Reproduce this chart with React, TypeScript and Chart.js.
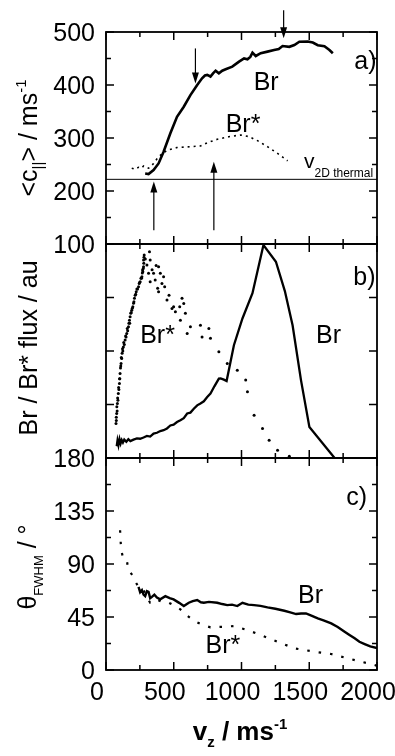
import React, { useEffect, useRef } from "react";
import { Chart, registerables } from "chart.js";
Chart.register(...registerables);

const FONT = "'Liberation Sans', Arial, Helvetica, sans-serif";
const W = 395;
const H = 756;
const PLOT_LEFT = 106;
const PLOT_RIGHT = 377;

// ---------- shared x axis ----------
const xTicks = [0, 250, 500, 750, 1000, 1250, 1500, 1750, 2000];
const xLabelled = [0, 500, 1000, 1500, 2000];

// ---------- panel a) <c||> ----------
const aBrX = [289, 314, 351, 388, 425, 475, 524, 574, 623, 673, 709, 730, 747, 771, 790, 809, 833, 858, 883, 932, 982, 1019, 1044, 1065, 1081, 1105, 1142, 1192, 1241, 1275, 1303, 1353, 1390, 1427, 1489, 1526, 1563, 1612, 1649, 1674];
const aBrY = [233, 232, 239.6, 252, 274, 309, 340, 359, 381, 400, 412.6, 418, 419, 416, 422, 427, 422, 427, 429.6, 434.6, 444, 450, 448.5, 453, 461, 454.7, 460, 463, 466, 468, 473.6, 472, 475.5, 481.7, 482, 480, 475, 473, 466, 460];
const aBrStarX = [190, 215, 240, 260, 277, 295, 314, 330, 351, 388, 450, 524, 623, 697, 747, 821, 907, 994, 1056, 1118, 1192, 1266, 1340];
const aBrStarY = [243, 241, 244.7, 243, 247, 244, 243, 246, 252, 264.7, 277, 282, 283.6, 285, 291, 297.5, 302.5, 305.7, 302.5, 295, 283.6, 271, 257];
const aThermal = 222;
const aYTicks = [100, 150, 200, 250, 300, 350, 400, 450, 500];
const aYLabelled = [100, 200, 300, 400, 500];
// arrows: x, start value, tip value
const aArrowX = [660, 1311, 353, 796];
const aArrowFrom = [469, 541, 126, 126];
const aArrowTip = [403, 488, 218, 255];

// ---------- panel b) flux ----------
const bBrX = [79, 85, 92, 100, 108, 116, 125, 135, 150, 165, 180, 203, 228, 252, 277, 302, 326, 351, 376, 401, 425, 450, 475, 499, 524, 549, 574, 599, 623, 648, 673, 697, 722, 747, 771, 800, 833, 846, 870, 890, 944, 1007, 1081, 1162, 1254, 1320, 1377, 1439, 1501, 1687];
const bBrY = [5.5, 8.2, 6.0, 8.8, 6.8, 8.4, 7.2, 8.6, 7.6, 8.8, 7.9, 8.6, 9.2, 9.0, 9.6, 10.3, 10.0, 11.4, 11.8, 12.6, 13.0, 13.8, 15.2, 15.6, 16.8, 17.6, 18.6, 20.8, 21.2, 23.0, 24.6, 25.5, 26.5, 28.5, 30.1, 33.5, 37.1, 37.2, 36.6, 36.0, 52.7, 65.2, 77, 99.5, 91.7, 78, 62, 36.4, 14.5, 0];
const bBrStarX = [74, 76, 76, 79, 80, 82, 84, 86, 88, 91, 93, 95, 99, 100, 102, 104, 107, 109, 111, 113, 116, 119, 122, 124, 128, 131, 135, 141, 145, 148, 153, 157, 160, 166, 169, 173, 175, 178, 183, 186, 190, 194, 198, 203, 206, 210, 215, 219, 223, 228, 233, 240, 245, 248, 252, 258, 262, 265, 268, 270, 272, 275, 277, 279, 277, 280, 282, 290, 302, 314, 321, 326, 326, 340, 351, 363, 370, 381, 388, 388, 401, 413, 425, 433, 450, 465, 487, 499, 512, 544, 549, 561, 574, 586, 599, 623, 697, 709, 759, 771, 833, 895, 969, 1031, 1044, 1093, 1155, 1204, 1266, 1353];
const bBrStarY = [16.1, 17.5, 19, 20.8, 24, 22, 25.5, 28, 27, 30.1, 33, 32, 34.8, 37, 37, 39.5, 42, 43, 44.2, 47, 46.5, 48.9, 51, 50, 51.9, 54, 53, 55.1, 57, 56.5, 58.2, 60.5, 59.5, 61.3, 63, 64.4, 63, 66, 67.6, 68, 69, 70, 70.7, 72.3, 73, 74.6, 76, 76.5, 77.7, 79, 79, 80, 81.5, 82, 82.4, 84, 84, 84.7, 86.5, 87.8, 87, 88.5, 89.4, 91, 92.5, 93.8, 94.9, 93, 90.2, 86.3, 96.4, 92.5, 82.4, 88, 86.3, 83.2, 90, 79.3, 89.4, 77.7, 86.3, 81.6, 84.7, 80, 73.8, 76, 69.9, 70.7, 68.3, 70.7, 64.4, 74.6, 72.2, 67.6, 58.2, 61.3, 62, 56.6, 60.5, 55.9, 49.6, 44.2, 41, 36.4, 30.9, 20, 13.8, 8.3, 3.6, 0.8];
const bYTicks = [0, 25, 50, 75, 100];

// ---------- panel c) theta FWHM ----------
const cBrX = [240, 252, 265, 277, 289, 302, 314, 326, 339, 357, 376, 400, 438, 470, 499, 540, 574, 611, 640, 673, 700, 722, 760, 821, 858, 895, 930, 969, 1007, 1050, 1093, 1140, 1192, 1250, 1316, 1360, 1403, 1440, 1476, 1520, 1563, 1610, 1662, 1710, 1761, 1800, 1835, 1870, 1909, 1950, 2000];
const cBrY = [70.6, 66, 67.8, 64, 62.7, 67, 66.4, 61, 62.1, 64, 61.6, 60, 62.7, 61, 59.9, 57, 54.3, 57.1, 58.5, 59.4, 57.5, 57.1, 57.8, 57.1, 56, 55.1, 55.5, 54.3, 57.1, 55.5, 55.1, 54.5, 53.2, 52, 50.3, 49, 47.5, 48, 48.1, 46, 43.8, 42, 39.6, 36.5, 32.5, 29.5, 26.9, 24, 22, 20, 18.6];
const cBrStarX = [104, 109, 116, 124, 135, 153, 166, 185, 203, 222, 240, 258, 277, 300, 326, 350, 376, 410, 450, 500, 549, 600, 648, 710, 771, 820, 870, 944, 1044, 1142, 1266, 1390, 1538, 1662, 1786, 1884, 1983, 2000];
const cBrStarY = [118.7, 107.4, 100, 96, 94, 93.3, 84.8, 82, 79.1, 74, 70.6, 68, 67.8, 62, 57.1, 58, 59.9, 58, 57.9, 55, 51.5, 46, 41.8, 38.5, 36.2, 36.5, 36.7, 37.3, 33.9, 29.7, 24, 18.4, 15.5, 13.6, 9.9, 7, 4.2, 3.5];
const cYTicks = [0, 22.5, 45, 67.5, 90, 112.5, 135, 157.5, 180];
const cYLabelled = [0, 45, 90, 135, 180];

// ---------- helpers ----------
type Part = { t: string; size: number; dy?: number; bold?: boolean };
const fnt = (size: number, bold?: boolean) => `${bold ? "bold " : ""}${size}px ${FONT}`;

function drawRich(ctx: CanvasRenderingContext2D, parts: Part[], x: number, y: number, center: boolean, rotate: boolean) {
  ctx.save();
  ctx.translate(x, y);
  if (rotate) ctx.rotate(-Math.PI / 2);
  const widths = parts.map((p) => {
    ctx.font = fnt(p.size, p.bold);
    return ctx.measureText(p.t).width;
  });
  const total = widths.reduce((a, b) => a + b, 0);
  let cx = center ? -total / 2 : 0;
  ctx.fillStyle = "#000";
  ctx.textAlign = "left";
  ctx.textBaseline = "alphabetic";
  parts.forEach((p, i) => {
    ctx.font = fnt(p.size, p.bold);
    ctx.fillText(p.t, cx, p.dy || 0);
    cx += widths[i];
  });
  ctx.restore();
}

type Label = { parts: Part[]; x: number; y: number };
type Arrow = { x: number; from: number; tip: number };

type Spec = {
  top: number;
  bottom: number;
  showX: boolean;
  yMin: number;
  yMax: number;
  yStep: number;
  yTicks: number[];
  yMajor: number[];
  yLabelled: number[];
  datasets: any[];
  labels: Label[];
  arrows?: Arrow[];
  hline?: number;
  titles?: (ctx: CanvasRenderingContext2D) => void;
};

const pts = (xs: number[], ys: number[]) => xs.map((x, i) => ({ x, y: ys[i] }));

function makePlugin(spec: Spec) {
  return {
    id: "deco",
    afterDraw(chart: any) {
      const ctx: CanvasRenderingContext2D = chart.ctx;
      const { left, right, top, bottom } = chart.chartArea;
      const xs = chart.scales.x;
      const ys = chart.scales.y;
      ctx.save();
      ctx.strokeStyle = "#000";
      // frame
      ctx.lineWidth = 1.8;
      ctx.strokeRect(left, top, right - left, bottom - top);
      ctx.lineWidth = 1.5;
      ctx.beginPath();
      for (const v of xTicks) {
        const px = xs.getPixelForValue(v);
        const len = xLabelled.includes(v) ? 8 : 5;
        ctx.moveTo(px, bottom);
        ctx.lineTo(px, bottom - len);
        ctx.moveTo(px, top);
        ctx.lineTo(px, top + len);
      }
      for (const v of spec.yTicks) {
        const py = ys.getPixelForValue(v);
        const len = spec.yMajor.includes(v) ? 8 : 5;
        ctx.moveTo(left, py);
        ctx.lineTo(left + len, py);
        ctx.moveTo(right, py);
        ctx.lineTo(right - len, py);
      }
      ctx.stroke();
      // tick labels (placed through the scales)
      ctx.fillStyle = "#000";
      ctx.font = fnt(25);
      ctx.textBaseline = "alphabetic";
      ctx.textAlign = "right";
      for (const v of spec.yLabelled) {
        const py = ys.getPixelForValue(v);
        ctx.fillText(String(v), left - 11, py + 8.5);
      }
      if (spec.showX) {
        ctx.textAlign = "center";
        for (const v of xLabelled) {
          const px = xs.getPixelForValue(v);
          ctx.fillText(String(v), px - 9, bottom + 30);
        }
      }
      // horizontal reference line
      if (spec.hline !== undefined) {
        const py = ys.getPixelForValue(spec.hline);
        ctx.lineWidth = 1;
        ctx.beginPath();
        ctx.moveTo(left, py);
        ctx.lineTo(right, py);
        ctx.stroke();
      }
      // arrows
      for (const a of spec.arrows || []) {
        const px = xs.getPixelForValue(a.x);
        const y0 = ys.getPixelForValue(a.from);
        const y1 = ys.getPixelForValue(a.tip);
        const dir = y1 > y0 ? 1 : -1;
        ctx.lineWidth = 1.2;
        ctx.beginPath();
        ctx.moveTo(px, y0);
        ctx.lineTo(px, y1 - dir * 8);
        ctx.stroke();
        ctx.beginPath();
        ctx.moveTo(px, y1);
        ctx.lineTo(px - 3.5, y1 - dir * 11);
        ctx.lineTo(px + 3.5, y1 - dir * 11);
        ctx.closePath();
        ctx.fill();
      }
      // in-plot labels
      for (const l of spec.labels) {
        drawRich(ctx, l.parts, xs.getPixelForValue(l.x), ys.getPixelForValue(l.y), false, false);
      }
      if (spec.titles) spec.titles(ctx);
      ctx.restore();
    },
  };
}

function buildChart(canvas: HTMLCanvasElement, spec: Spec) {
  const xScale: any = {
    type: "linear",
    min: 0,
    max: 2000,
    display: spec.showX,
    grid: { display: false, drawTicks: false },
    border: { display: false },
    ticks: { display: false, stepSize: 250 },
  };
  if (spec.showX) {
    xScale.afterFit = (s: any) => {
      s.height = H - spec.bottom;
    };
  }
  return new Chart(canvas, {
    type: "scatter",
    data: { datasets: spec.datasets },
    options: {
      responsive: false,
      animation: false,
      devicePixelRatio: 1,
      layout: {
        autoPadding: false,
        padding: { left: 0, right: W - PLOT_RIGHT, top: spec.top, bottom: spec.showX ? 0 : H - spec.bottom },
      },
      plugins: { legend: { display: false }, tooltip: { enabled: false } },
      scales: {
        x: xScale,
        y: {
          type: "linear",
          min: spec.yMin,
          max: spec.yMax,
          grid: { display: false, drawTicks: false },
          border: { display: false },
          afterFit: (s: any) => {
            s.width = PLOT_LEFT;
          },
          ticks: { display: false, stepSize: spec.yStep },
        },
      },
    } as any,
    plugins: [makePlugin(spec) as any],
  });
}

const lineDs = (data: any[], width: number, dash: number[] = []) => ({
  data,
  showLine: true,
  borderColor: "#000",
  borderWidth: width,
  borderDash: dash,
  pointRadius: 0,
  fill: false,
  tension: 0,
});

const T = 25;

const specA: Spec = {
  top: 32,
  bottom: 244,
  showX: false,
  yMin: 100,
  yMax: 500,
  yStep: 50,
  yTicks: aYTicks,
  yMajor: aYLabelled,
  yLabelled: aYLabelled,
  datasets: [lineDs(pts(aBrX, aBrY), 2.6), lineDs(pts(aBrStarX, aBrStarY), 1.6, [2, 4])],
  hline: aThermal,
  arrows: aArrowX.map((x, i) => ({ x, from: aArrowFrom[i], tip: aArrowTip[i] })),
  labels: [
    { parts: [{ t: "a)", size: T }], x: 1832, y: 430 },
    { parts: [{ t: "Br", size: T }], x: 1090, y: 390.6 },
    { parts: [{ t: "Br*", size: T }], x: 883, y: 311 },
    { parts: [{ t: "v", size: 21 }, { t: "2D thermal", size: 12, dy: 9 }], x: 1461, y: 243 },
  ],
  titles: (ctx) => {
    drawRich(
      ctx,
      [
        { t: "<c", size: T },
        { t: "||", size: 15, dy: 6 },
        { t: "> / ms", size: T },
        { t: "-1", size: 15, dy: -11 },
      ],
      37,
      138,
      true,
      true
    );
  },
};

const specB: Spec = {
  top: 244,
  bottom: 458,
  showX: false,
  yMin: 0,
  yMax: 100,
  yStep: 25,
  yTicks: bYTicks,
  yMajor: bYTicks,
  yLabelled: [],
  datasets: [
    lineDs(pts(bBrX, bBrY), 2.3),
    {
      data: pts(bBrStarX, bBrStarY),
      showLine: false,
      pointRadius: 1.5,
      pointBorderWidth: 0,
      pointBackgroundColor: "#000",
      borderColor: "#000",
    },
  ],
  labels: [
    { parts: [{ t: "b)", size: T }], x: 1825, y: 80.7 },
    { parts: [{ t: "Br*", size: T }], x: 252, y: 53.7 },
    { parts: [{ t: "Br", size: T }], x: 1550, y: 53.7 },
  ],
  titles: (ctx) => {
    drawRich(ctx, [{ t: "Br / Br* flux / au", size: T }], 37, 348, true, true);
  },
};

const specC: Spec = {
  top: 458,
  bottom: 670,
  showX: true,
  yMin: 0,
  yMax: 180,
  yStep: 22.5,
  yTicks: cYTicks,
  yMajor: cYLabelled,
  yLabelled: cYLabelled,
  datasets: [lineDs(pts(cBrX, cBrY), 2.4), lineDs(pts(cBrStarX, cBrStarY), 2.2, [2.5, 9])],
  labels: [
    { parts: [{ t: "c)", size: T }], x: 1773, y: 139.9 },
    { parts: [{ t: "Br", size: T }], x: 1417, y: 56.8 },
    { parts: [{ t: "Br*", size: T }], x: 734, y: 14.4 },
  ],
  titles: (ctx) => {
    drawRich(
      ctx,
      [
        { t: "θ", size: T },
        { t: "FWHM", size: 13, dy: 7 },
        { t: " / °", size: T },
      ],
      36,
      567,
      true,
      true
    );
    drawRich(
      ctx,
      [
        { t: "v", size: 26, bold: true },
        { t: "z", size: 15, dy: 7, bold: true },
        { t: " / ms", size: 26, bold: true },
        { t: "-1", size: 15, dy: -11, bold: true },
      ],
      240,
      740,
      true,
      false
    );
  },
};

function Panel({ spec }: { spec: Spec }) {
  const ref = useRef<HTMLCanvasElement>(null);
  useEffect(() => {
    const chart = buildChart(ref.current as HTMLCanvasElement, spec);
    return () => chart.destroy();
  }, [spec]);
  return (
    <canvas
      ref={ref}
      width={W}
      height={H}
      style={{ position: "absolute", left: 0, top: 0, width: W, height: H }}
    />
  );
}

export default function App() {
  return (
    <div style={{ position: "absolute", left: 0, top: 0, width: W, height: H, background: "#fff", overflow: "hidden" }}>
      <Panel spec={specA} />
      <Panel spec={specB} />
      <Panel spec={specC} />
    </div>
  );
}
